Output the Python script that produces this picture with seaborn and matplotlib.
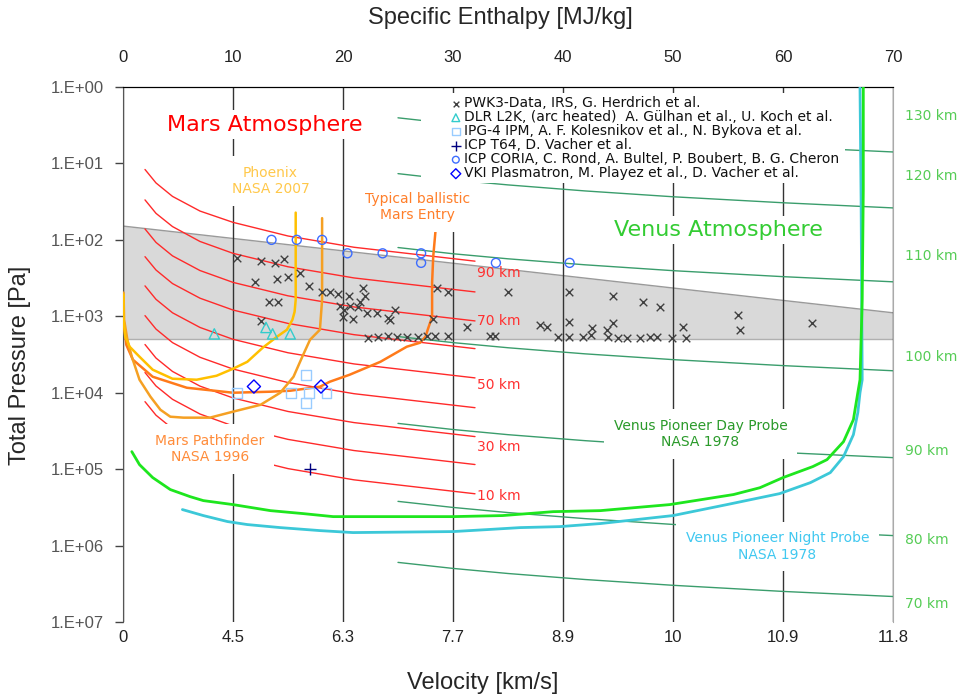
import numpy as np
import pandas as pd
import matplotlib
matplotlib.use("Agg")
import matplotlib.pyplot as plt
from matplotlib.patches import Rectangle
import seaborn as sns

# ---------------- data ----------------
h_ticks = [0, 10, 20, 30, 40, 50, 60, 70]                  # specific enthalpy [MJ/kg]
v_labels = ['0', '4.5', '6.3', '7.7', '8.9', '10', '10.9', '11.8']  # velocity [km/s]
p_ticks = [1, 1e1, 1e2, 1e3, 1e4, 1e5, 1e6, 1e7]
p_labels = ['1.E+00', '1.E+01', '1.E+02', '1.E+03', '1.E+04', '1.E+05', '1.E+06', '1.E+07']

# grey band
band_h = [0, 70]
band_top = [66, 900]
band_bottom = [1970, 1970]

# Mars altitude lines
mars_alt = [90, 80, 70, 60, 50, 40, 30, 20, 10]
mars_h = [2, 3, 4.5, 7, 10, 15, 21, 32]
mars_p = [
    [12, 18, 27, 42, 59, 89, 125, 190],
    [30, 45, 67, 105, 150, 225, 315, 480],
    [72, 108, 162, 252, 360, 540, 755, 1150],
    [166, 248, 373, 580, 828, 1240, 1740, 2650],
    [400, 600, 900, 1400, 2000, 3000, 4200, 6400],
    [980, 1470, 2210, 3440, 4900, 7360, 10300, 15700],
    [2340, 3520, 5270, 8200, 11700, 17600, 24600, 37500],
    [5440, 8160, 12200, 19000, 27200, 40800, 57100, 87000],
    [13100, 19700, 29500, 46000, 65600, 98400, 138000, 210000],
]

# Venus altitude lines
venus_alt = [130, 120, 110, 100, 90, 80, 70]
venus_h = [25, 30, 35, 42, 50, 60, 70]
venus_p = [
    [2.53, 3.04, 3.54, 4.25, 5.06, 6.07, 7.08],
    [13.6, 16.4, 19.1, 22.9, 27.3, 32.7, 38.2],
    [126, 152, 177, 212, 253, 303, 354],
    [1840, 2210, 2580, 3100, 3690, 4420, 5160],
    [25200, 30300, 35400, 42400, 50500, 60600, 70700],
    [264000, 317000, 370000, 444000, 529000, 634000, 740000],
    [1660000, 1990000, 2320000, 2780000, 3310000, 3980000, 4640000],
]

# entry trajectories
phx_h = [15.7, 15.7, 15.6, 15.4, 14.9, 14.0, 12.7, 11.3, 10.0, 8.5, 6.7, 4.5, 2.7, 1.5, 0.6, 0.2, 0.05, 0.05]
phx_p = [44, 608, 873, 1110, 1500, 1850, 2580, 3940, 4860, 6000, 6760, 6560, 5000, 3380, 2500, 1850, 1110, 520]

mpf_h = [18.1, 18.1, 17.9, 17.0, 16.3, 15.5, 14.3, 12.5, 10.0, 7.9, 5.5, 4.3, 3.4, 2.5, 1.5, 0.8, 0.4, 0.1, 0.05]
mpf_p = [52, 608, 1500, 2030, 3380, 6180, 10000, 14400, 17700, 21200, 21200, 20600, 16700, 11300, 6760, 3380,
         2030, 1110, 490]

tbe_h = [28.4, 28.2, 28.1, 28.1, 27.7, 27.5, 27.0, 25.8, 23.4, 20.6, 18.8, 17.9, 15.2, 13.4, 10.0, 5.8, 2.7, 0.9,
         0.3, 0.05, 0.05]
tbe_p = [79, 167, 365, 1016, 1500, 1850, 2220, 2500, 3940, 5820, 7180, 8350, 9420, 9700, 10000, 8610, 6180, 3700,
         2360, 1110, 600]

vday_h = [0.8, 1.5, 2.7, 4.3, 6.1, 7.3, 10.0, 13.4, 16.4, 19.1, 30.0, 34.5, 39.1, 43.4, 49.7, 55.5, 57.9, 60.0,
          62.7, 64.0, 65.5, 66.4, 66.8, 67.0, 67.2, 67.3, 67.3]
vday_p = [59000, 87300, 129000, 185000, 229000, 258000, 291000, 349000, 382000, 418000, 418000, 405000, 360000,
          349000, 291000, 215000, 175000, 129000, 92700, 75100, 43700, 22500, 10000, 6760, 608, 22, 1]

vnight_h = [5.4, 7.3, 9.5, 11.3, 14.3, 17.9, 20.9, 30.0, 33.1, 36.1, 39.7, 43.4, 50.0, 54.9, 59.7, 62.5, 64.3,
            65.5, 66.4, 66.8, 67.0, 67.2, 67.1, 67.0]
vnight_p = [338000, 405000, 485000, 531000, 582000, 637000, 676000, 656000, 618000, 582000, 565000, 515000,
            405000, 291000, 209000, 150000, 111000, 68700, 35400, 18300, 10000, 6760, 30, 1]

# measurements
pwk_h = [10.4, 12.5, 13.8, 14.6, 16.1, 12.0, 14.0, 15.0, 16.9, 13.3, 14.1, 12.5,
         18.1, 18.8, 19.5, 20.5, 21.8, 22.0, 21.5, 19.7, 20.6, 21.4, 20.1, 22.2, 23.1, 24.1, 24.7, 20.0, 20.9, 24.3,
         28.5, 29.5, 28.2,
         22.3, 23.2, 24.1, 24.9, 25.8, 26.8, 27.6, 28.4, 29.5,
         31.3, 33.4, 33.8,
         35.0, 40.5, 44.5, 47.3, 48.8, 55.9, 62.6, 40.5, 44.5, 37.9, 38.5, 42.6, 44.0, 50.9, 56.1,
         39.5, 40.5, 41.8, 42.5, 44.1, 45.0, 45.8, 47.0, 47.9, 48.5, 49.9, 51.2]
pwk_p = [172, 188, 200, 177, 270, 354, 323, 305, 399, 646, 646, 1150,
         478, 478, 508, 540, 424, 540, 646, 730, 730, 750, 820, 900, 900, 1050, 820, 1020, 1080, 1110,
         424, 478, 1080,
         1910, 1850, 1800, 1850, 1850, 1850, 1800, 1800, 1800,
         1370, 1800, 1800,
         478, 478, 540, 646, 750, 955, 1220, 1180, 1220, 1290, 1370, 1410, 1500, 1370, 1500,
         1850, 1850, 1850, 1750, 1850, 1910, 1910, 1910, 1850, 1850, 1910, 1910]

dlr_h = [8.3, 13.0, 13.6, 15.2]
dlr_p = [1700, 1400, 1700, 1700]

ipg_h = [10.4, 16.6, 15.3, 16.9, 18.5, 16.6]
ipg_p = [10000, 5800, 10000, 10000, 10000, 13500]

t64_h = [17.0]
t64_p = [100000]

coria_h = [13.5, 15.8, 18.1, 20.4, 23.6, 27.1, 27.1, 33.9, 40.6]
coria_p = [100, 100, 100, 150, 150, 150, 200, 200, 200]

vki_h = [11.9, 18.0]
vki_p = [8300, 8300]

# ---------------- plot ----------------
sns.set_style("white")
plt.rcParams['font.family'] = ['DejaVu Sans']

fig = plt.figure(figsize=(9.6, 6.99), dpi=100)
ax = fig.add_axes([123 / 960, 1 - 622 / 699, 770 / 960, 535 / 699])
ax.set_yscale('log')
ax.set_xlim(0, 70)
ax.set_ylim(1e7, 1)

# grey band
ax.fill_between(band_h, band_top, band_bottom, color='#d9d9d9', lw=0, zorder=0.2)
ax.plot(band_h, band_top, color='#9a9a9a', lw=1, zorder=0.3)
ax.plot(band_h, band_bottom, color='#b0b0b0', lw=1, zorder=0.3)

# altitude lines
mars_df = pd.DataFrame([(a, h, p) for a, row in zip(mars_alt, mars_p) for h, p in zip(mars_h, row)],
                       columns=['alt', 'h', 'p'])
sns.lineplot(data=mars_df, x='h', y='p', units='alt', estimator=None, sort=False,
             color='#ff2a2a', lw=1, legend=False, ax=ax, zorder=2)
venus_df = pd.DataFrame([(a, h, p) for a, row in zip(venus_alt, venus_p) for h, p in zip(venus_h, row)],
                        columns=['alt', 'h', 'p'])
sns.lineplot(data=venus_df, x='h', y='p', units='alt', estimator=None, sort=False,
             color='#3a9d6c', lw=1, legend=False, ax=ax, zorder=2)

# trajectories (Venus probes drawn above the text boxes)
for hh, pp, col, w, z in [(vnight_h, vnight_p, '#3cc8d8', 2, 7), (vday_h, vday_p, '#1ee61e', 2, 7),
                          (tbe_h, tbe_p, '#ff7a1a', 1.8, 3), (mpf_h, mpf_p, '#f5a023', 1.8, 3),
                          (phx_h, phx_p, '#ffc000', 1.8, 3)]:
    sns.lineplot(x=hh, y=pp, sort=False, estimator=None, color=col, lw=w, ax=ax, zorder=z)

# measurements
sns.scatterplot(x=pwk_h, y=pwk_p, marker='x', s=30, color='#404040', linewidth=1,
                label='PWK3-Data, IRS, G. Herdrich et al.', ax=ax, zorder=4)
sns.scatterplot(x=dlr_h, y=dlr_p, marker='^', s=55, color='#33cccc', facecolor='none', edgecolor='#33cccc',
                linewidth=1, label='DLR L2K, (arc heated)  A. Gülhan et al., U. Koch et al.', ax=ax, zorder=4)
sns.scatterplot(x=ipg_h, y=ipg_p, marker='s', s=50, color='#99ccff', facecolor='none', edgecolor='#99ccff',
                linewidth=1, label='IPG-4 IPM, A. F. Kolesnikov et al., N. Bykova et al.', ax=ax, zorder=4)
sns.scatterplot(x=t64_h, y=t64_p, marker='+', s=80, color='#000080', linewidth=1,
                label='ICP T64, D. Vacher et al.', ax=ax, zorder=4)
sns.scatterplot(x=coria_h, y=coria_p, marker='o', s=42, color='#3d6dff', facecolor='none', edgecolor='#3d6dff',
                linewidth=1, label='ICP CORIA, C. Rond, A. Bultel, P. Boubert, B. G. Cheron', ax=ax, zorder=4)
sns.scatterplot(x=vki_h, y=vki_p, marker='D', s=45, color='#0000ff', facecolor='none', edgecolor='#0000ff',
                linewidth=1, label='VKI Plasmatron, M. Playez et al., D. Vacher et al.', ax=ax, zorder=4)

# white area behind the legend
ax.add_patch(Rectangle((0.387, 0.8206), 0.551, 0.168, transform=ax.transAxes,
                       facecolor='white', edgecolor='none', zorder=5))
leg = ax.legend(loc='upper left', bbox_to_anchor=(0.416, 0.9955), frameon=False, borderpad=0,
                handlelength=0.8, handletextpad=0.2, labelspacing=0.0, markerscale=0.75,
                prop={'family': 'DejaVu Sans', 'size': 10})
for t in leg.get_texts():
    t.set_color('#111111')
leg.set_zorder(6)

# annotations
box = dict(facecolor='white', edgecolor='none', pad=7)
ax.text(12.9, 3.1, 'Mars Atmosphere', color='#ff0000', fontsize=16, ha='center', va='center',
        bbox=dict(facecolor='white', edgecolor='none', pad=3), zorder=6)
ax.text(54.1, 74, 'Venus Atmosphere', color='#33cc33', fontsize=16, ha='center', va='center',
        bbox=dict(facecolor='white', edgecolor='none', pad=3), zorder=6)
ax.text(13.4, 16.9, 'Phoenix\nNASA 2007', color='#ffc84a', fontsize=10, ha='center', va='center',
        bbox=box, zorder=6)
ax.text(26.8, 37, 'Typical ballistic\nMars Entry', color='#ff7f2a', fontsize=10, ha='center', va='center',
        bbox=box, zorder=6)
ax.text(7.9, 54000, 'Mars Pathfinder\nNASA 1996', color='#ff8c3a', fontsize=10, ha='center', va='center',
        bbox=box, zorder=6)
ax.text(52.5, 34400, 'Venus Pioneer Day Probe\nNASA 1978', color='#2a9a2a', fontsize=10, ha='center',
        va='center', bbox=box, zorder=6)
ax.text(59.5, 1.03e6, 'Venus Pioneer Night Probe\nNASA 1978', color='#40c8f0', fontsize=10, ha='center',
        va='center', bbox=box, zorder=6)

for lab, py in zip(['90 km', '70 km', '50 km', '30 km', '10 km'], [270, 1145, 7850, 50800, 222000]):
    ax.text(32.2, py, lab, color='#ff3030', fontsize=10, ha='left', va='center', zorder=6)
for lab, py in zip(['130 km', '120 km', '110 km', '100 km', '90 km', '80 km', '70 km'],
                   [2.39, 14.6, 162, 3380, 57300, 835000, 5.73e6]):
    ax.text(71.1, py, lab, color='#55cc55', fontsize=10, ha='left', va='center', clip_on=False)

# axes, grid, ticks
ax.set_xticks(h_ticks)
ax.set_xticklabels(v_labels)
ax.set_yticks(p_ticks)
ax.set_yticklabels(p_labels)
ax.minorticks_off()
ax.grid(axis='x', color='#333333', lw=1)
ax.grid(axis='y', visible=False)
ax.set_axisbelow(True)
ax.tick_params(axis='x', length=0, pad=6, labelsize=12, labelcolor='#222222')
ax.tick_params(axis='y', left=True, length=6, width=1, color='#444444', pad=8, labelsize=12,
               labelcolor='#555555', direction='out')
for lab in ax.get_xticklabels() + ax.get_yticklabels():
    lab.set_family('Liberation Sans')

sec = ax.secondary_xaxis('top')
sec.set_xticks(h_ticks)
sec.set_xticklabels([str(t) for t in h_ticks])
sec.tick_params(length=0, pad=16, labelsize=12, labelcolor='#222222')
for lab in sec.get_xticklabels():
    lab.set_family('Liberation Sans')
sec.spines['top'].set_color('black')

ax.spines['top'].set_color('black')
ax.spines['left'].set_color('#555555')
ax.spines['right'].set_color('#aaaaaa')
ax.spines['bottom'].set_visible(False)
ax.set_xlabel('')
ax.set_ylabel('')

fig.text(500 / 960, 1 - 18 / 699, 'Specific Enthalpy [MJ/kg]', ha='center', va='center',
         fontsize=17, family='Liberation Sans')
fig.text(483 / 960, 1 - 683 / 699, 'Velocity [km/s]', ha='center', va='center',
         fontsize=17, family='Liberation Sans')
fig.text(20 / 960, 1 - 365 / 699, 'Total Pressure [Pa]', ha='center', va='center', rotation=90,
         fontsize=17, family='Liberation Sans')

fig.savefig('out.png', dpi=100)
